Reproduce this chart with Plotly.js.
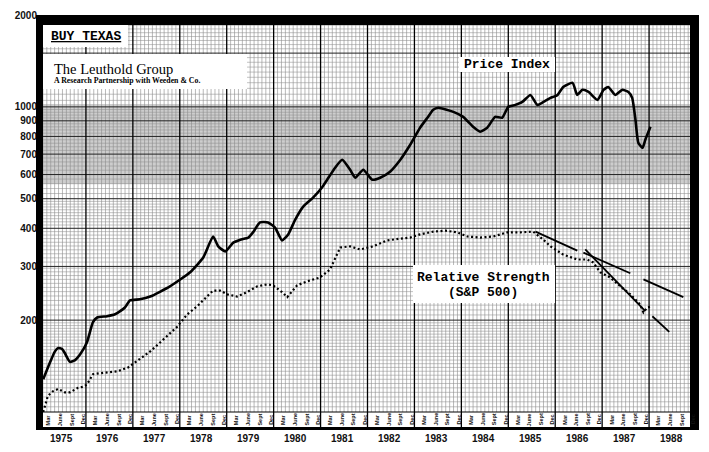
<!DOCTYPE html>
<html><head><meta charset="utf-8">
<script src="https://cdn.plot.ly/plotly-3.0.1.min.js"></script>
<style>html,body{margin:0;padding:0;background:#fff}</style>
</head><body><div id="chart" style="width:709px;height:452px"></div>
<script>
// ---- data ----
const priceYears = [1975.09,1975.24,1975.34,1975.41,1975.49,1975.55,1975.66,1975.77,1975.87,1976.02,1976.15,1976.24,1976.45,1976.62,1976.73,1976.83,1976.94,1977.15,1977.37,1977.79,1978.22,1978.50,1978.71,1978.82,1978.97,1979.14,1979.29,1979.46,1979.56,1979.71,1979.88,1980.03,1980.18,1980.31,1980.46,1980.63,1980.84,1981.03,1981.14,1981.31,1981.46,1981.63,1981.74,1981.91,1982.10,1982.27,1982.48,1982.70,1982.91,1983.12,1983.29,1983.40,1983.51,1983.83,1984.04,1984.25,1984.40,1984.55,1984.72,1984.87,1985.00,1985.15,1985.30,1985.47,1985.62,1985.75,1985.90,1986.05,1986.17,1986.37,1986.47,1986.58,1986.71,1986.90,1987.03,1987.13,1987.28,1987.43,1987.56,1987.64,1987.71,1987.77,1987.86,1987.92,1988.03];
const priceIndex = [128,146,158,162,161,156,146,148,154,169,197,204,206,209,214,220,232,234,239,258,287,321,376,349,336,359,367,373,388,418,418,402,365,382,427,471,504,544,577,632,671,622,586,622,577,586,613,671,751,854,927,978,993,963,927,860,829,854,927,921,1000,1015,1038,1094,1015,1038,1070,1094,1162,1198,1094,1137,1119,1054,1137,1162,1094,1137,1119,1070,907,763,734,780,860];

const rsYears = [1975.09,1975.19,1975.30,1975.41,1975.55,1975.66,1975.83,1975.94,1976.02,1976.15,1976.30,1976.51,1976.68,1976.90,1977.15,1977.37,1977.58,1977.94,1978.16,1978.37,1978.58,1978.71,1978.86,1979.01,1979.22,1979.43,1979.65,1979.86,1979.99,1980.18,1980.29,1980.50,1980.71,1980.99,1981.20,1981.42,1981.63,1981.84,1982.12,1982.42,1982.70,1982.91,1983.12,1983.40,1983.66,1983.91,1984.13,1984.40,1984.68,1984.98,1985.26,1985.53,1985.75,1985.90,1986.17,1986.47,1986.68,1986.81,1986.96,1987.17,1987.39,1987.60,1987.81,1987.88,1987.96,1988.07];
const relStrength = [100,113,117,119,116,116,120,121,123,133,134,135,136,140,149,158,169,190,209,222,239,250,250,243,239,247,258,262,260,247,238,260,268,276,293,346,349,341,349,365,370,373,382,390,393,388,376,373,376,388,388,390,367,349,328,316,316,309,287,276,258,243,225,212,220,222];

const trendAYears = [1985.58,1986.47,null,1986.60,1987.60,null,1987.88,1988.73];
const trendAValues = [390,338,null,333,285,null,272,238];
const trendBYears = [1986.64,1987.92,null,1988.07,1988.43];
const trendBValues = [341,214,null,206,183];

const yTickVals = [200,300,400,500,600,700,800,900,1000,2000];
const yTickText = ['200','300','400','500','600','700','800','900','1000','2000'];
const yearLabels = [1975,1976,1977,1978,1979,1980,1981,1982,1983,1984,1985,1986,1987,1988];
const monthLabels = ['Mar','June','Sept','Dec'];
const monthOffsets = [0.19,0.44,0.69,0.93];

// ---- chart-paper grid ----
const X0 = 1975, X1 = 1989, Y0 = 100, Y1 = 2000;
const vgx = [], vgy = [];
for (let k = 1; k < (X1 - X0) * 12; k++) {
  if (k % 12 === 0) continue;
  const x = X0 + k / 12;
  vgx.push(x, x, null); vgy.push(Y0, Y1, null);
}
const hMinor = [], hMajor = [];
function addRange(a, b, s) { for (let v = a; v < b - 1e-9; v += s) hMinor.push(v); }
addRange(104, 200, 4); addRange(208, 300, 8); addRange(310, 500, 10); addRange(520, 1000, 20); addRange(1050, 2000, 50);
[200,300,400,500,600,700,800,900,1000,1500].forEach(v => hMajor.push(v));
const hgx = [], hgy = [], hmx = [], hmy = [];
hMinor.filter(v => hMajor.indexOf(v) < 0).forEach(v => { hgx.push(X0, X1, null); hgy.push(v, v, null); });
hMajor.forEach(v => { hmx.push(X0, X1, null); hmy.push(v, v, null); });

// pixel helpers for paper coords (plot area 39..696 x 15..412)
const PL = 39, PR = 696, PT = 15, PB = 412;
const px = p => (p - PL) / (PR - PL);
const py = p => (PB - p) / (PB - PT);

const traces = [
  {x: vgx, y: vgy, mode: 'lines', line: {color: '#8a8a8a', width: 0.6}, hoverinfo: 'skip', showlegend: false},
  {x: hgx, y: hgy, mode: 'lines', line: {color: '#8f8f8f', width: 0.55}, hoverinfo: 'skip', showlegend: false},
  {x: hmx, y: hmy, mode: 'lines', line: {color: '#222', width: 1}, hoverinfo: 'skip', showlegend: false},
  {x: rsYears, y: relStrength, mode: 'lines', name: 'Relative Strength (S&P 500)',
   line: {color: '#000', width: 2.2, dash: '2px,2.5px'}, showlegend: false},
  {x: trendAYears, y: trendAValues, mode: 'lines', line: {color: '#000', width: 1.8}, showlegend: false, connectgaps: false},
  {x: trendBYears, y: trendBValues, mode: 'lines', line: {color: '#000', width: 1.8}, showlegend: false, connectgaps: false},
  {x: priceYears, y: priceIndex, mode: 'lines', name: 'Price Index',
   line: {color: '#000', width: 2.6, shape: 'spline', smoothing: 0.5}, showlegend: false}
];

const shapes = [];
// grey scanned band
shapes.push({type: 'rect', xref: 'paper', yref: 'paper', x0: 0, x1: 1, y0: py(184), y1: py(104),
  fillcolor: 'rgba(130,130,130,0.4)', line: {width: 0}, layer: 'below'});
// year lines (through plot and month band)
for (let y = X0 + 1; y < X1; y++) {
  shapes.push({type: 'line', xref: 'x', yref: 'paper', x0: y, x1: y, y0: py(428), y1: 1,
    line: {color: '#000', width: 1.3}, layer: 'above'});
}
// band top line
shapes.push({type: 'line', xref: 'paper', yref: 'paper', x0: 0, x1: 1, y0: 0, y1: 0, line: {color: '#000', width: 1.2}, layer: 'above'});
// white label boxes
const box = (x0, x1, y0, y1) => ({type: 'rect', xref: 'paper', yref: 'paper', x0: px(x0), x1: px(x1), y0: py(y1), y1: py(y0),
  fillcolor: '#fff', line: {width: 0}, layer: 'above'});
shapes.push(box(43, 128, 25, 47));
shapes.push(box(43, 247, 54, 89));
shapes.push(box(459, 555, 57, 72));
shapes.push(box(413, 555, 265, 303));
// thick black frame
const blk = (x0, x1, y0, y1) => ({type: 'rect', xref: 'paper', yref: 'paper', x0: px(x0), x1: px(x1), y0: py(y1), y1: py(y0),
  fillcolor: '#000', line: {width: 0}, layer: 'above'});
shapes.push(blk(36, 43, 15, 430));
shapes.push(blk(36, 699, 15, 25));
shapes.push(blk(690, 699, 15, 430));
shapes.push(blk(36, 699, 427, 430));

const annotations = [];
yearLabels.forEach(y => {
  annotations.push({x: y + 0.47, xref: 'x', y: py(438), yref: 'paper', text: '<b>' + y + '</b>', showarrow: false,
    font: {family: 'Liberation Sans, Arial', size: 10, color: '#111'}, xanchor: 'center', yanchor: 'middle'});
  monthLabels.forEach((m, i) => {
    annotations.push({x: y + monthOffsets[i], xref: 'x', y: py(419.5), yref: 'paper', text: '<b>' + m + '</b>', showarrow: false,
      textangle: -90, font: {family: 'Liberation Sans, Arial', size: 5.5, color: '#111'}, xanchor: 'center', yanchor: 'middle'});
  });
});
annotations.push({x: px(49), y: py(36), xref: 'paper', yref: 'paper', text: '<b><u>BUY TEXAS</u></b>', showarrow: false,
  xanchor: 'left', yanchor: 'middle', font: {family: 'Liberation Mono, Courier New', size: 13, color: '#000'}});
annotations.push({x: px(52), y: py(69), xref: 'paper', yref: 'paper', text: 'The Leuthold Group', showarrow: false,
  xanchor: 'left', yanchor: 'middle', font: {family: 'Liberation Serif, Times New Roman', size: 14.5, color: '#000'}});
annotations.push({x: px(52), y: py(80), xref: 'paper', yref: 'paper', text: '<b>A Research Partnership with Weeden &amp; Co.</b>', showarrow: false,
  xanchor: 'left', yanchor: 'middle', font: {family: 'Liberation Serif, Times New Roman', size: 7.8, color: '#000'}});
annotations.push({x: px(507), y: py(64.5), xref: 'paper', yref: 'paper', text: '<b>Price Index</b>', showarrow: false,
  xanchor: 'center', yanchor: 'middle', font: {family: 'Liberation Mono, Courier New', size: 13, color: '#000'}});
annotations.push({x: px(483), y: py(277), xref: 'paper', yref: 'paper', text: '<b>Relative Strength</b>', showarrow: false,
  xanchor: 'center', yanchor: 'middle', font: {family: 'Liberation Mono, Courier New', size: 13, color: '#000'}});
annotations.push({x: px(483), y: py(292), xref: 'paper', yref: 'paper', text: '<b>(S&amp;P 500)</b>', showarrow: false,
  xanchor: 'center', yanchor: 'middle', font: {family: 'Liberation Mono, Courier New', size: 13, color: '#000'}});

const layout = {
  width: 709, height: 452,
  margin: {l: PL, r: 709 - PR, t: PT, b: 452 - PB},
  paper_bgcolor: '#fff', plot_bgcolor: '#fff',
  showlegend: false,
  xaxis: {range: [X0, X1], showgrid: false, zeroline: false, showline: false, showticklabels: false, ticks: ''},
  yaxis: {type: 'log', range: [Math.log10(Y0), Math.log10(Y1)], tickvals: yTickVals,
    ticktext: yTickText.map(t => '<b>' + t + '</b>'),
    showgrid: false, zeroline: false, showline: false, ticks: '', ticklabelstandoff: 1,
    tickfont: {family: 'Liberation Sans, Arial', size: 10, color: '#111'}},
  shapes: shapes,
  annotations: annotations
};
Plotly.newPlot('chart', traces, layout, {displayModeBar: false, staticPlot: true});
</script></body></html>
